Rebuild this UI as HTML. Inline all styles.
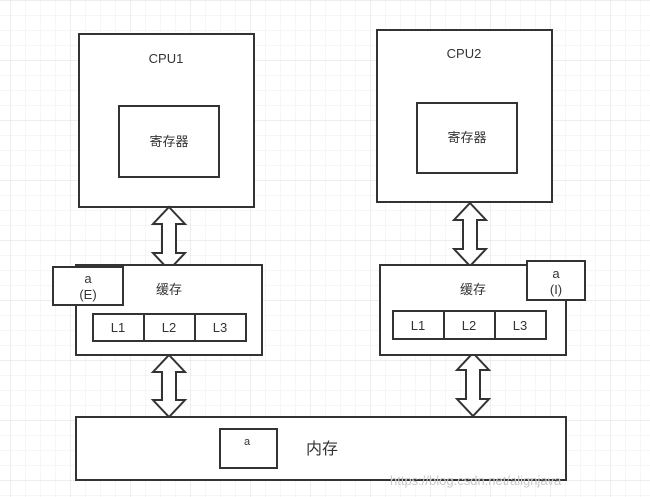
<!DOCTYPE html>
<html><head><meta charset="utf-8"><style>
html,body{margin:0;padding:0;background:#fff}
svg{display:block}
text{font-family:"Liberation Sans","Noto Sans CJK SC",sans-serif;fill:#333}
</style></head><body>
<svg width="650" height="497" viewBox="0 0 650 497" xmlns="http://www.w3.org/2000/svg">
<defs>
<pattern id="g" x="10" y="0" width="15" height="15" patternUnits="userSpaceOnUse">
<path d="M0 0V15M0 0H15" stroke="#ececec" stroke-width="1" fill="none"/>
</pattern>
<pattern id="G" x="10" y="0" width="60" height="60" patternUnits="userSpaceOnUse">
<path d="M0 0V60M0 0H60" stroke="#dedede" stroke-width="1" fill="none"/>
</pattern>
</defs>
<rect width="650" height="497" fill="url(#g)"/>
<rect width="650" height="497" fill="url(#G)"/>
<g fill="#fff" stroke="#333" stroke-width="2">
<!-- CPU1 -->
<rect x="79" y="34" width="175" height="173"/>
<rect x="119" y="106" width="100" height="71"/>
<!-- CPU2 -->
<rect x="377" y="30" width="175" height="172"/>
<rect x="417" y="103" width="100" height="70"/>
<!-- arrows -->
<path d="M169 207 L185 224 L176 224 L176 253 L185 253 L169 270 L153 253 L162 253 L162 224 L153 224 Z"/>
<path d="M169 355 L185 372 L176 372 L176 400 L185 400 L169 417 L153 400 L162 400 L162 372 L153 372 Z"/>
<path d="M470 203 L486 220 L477 220 L477 249 L486 249 L470 266 L454 249 L463 249 L463 220 L454 220 Z"/>
<path d="M473 353 L489 370 L480 370 L480 399 L489 399 L473 416 L457 399 L466 399 L466 370 L457 370 Z"/>
<!-- cache left -->
<rect x="76" y="265" width="186" height="90"/>
<rect x="53" y="267" width="70" height="38"/>
<rect x="93" y="314" width="153" height="27"/>
<line x1="144" y1="314" x2="144" y2="341"/>
<line x1="195" y1="314" x2="195" y2="341"/>
<!-- cache right -->
<rect x="380" y="265" width="186" height="90"/>
<rect x="527" y="261" width="58" height="39"/>
<rect x="393" y="311" width="153" height="28"/>
<line x1="444" y1="311" x2="444" y2="339"/>
<line x1="495" y1="311" x2="495" y2="339"/>
<!-- memory -->
<rect x="76" y="417" width="490" height="63"/>
<rect x="220" y="429" width="57" height="39"/>
</g>
<g font-size="13" text-anchor="middle">
<text x="166" y="63">CPU1</text>
<text x="464" y="58">CPU2</text>
<text x="169" y="146">寄存器</text>
<text x="467" y="142">寄存器</text>
<text x="169" y="294">缓存</text>
<text x="473" y="294">缓存</text>
<text x="88" y="283">a</text>
<text x="88" y="299">(E)</text>
<text x="556" y="278">a</text>
<text x="556" y="294">(I)</text>
<text x="118" y="332">L1</text>
<text x="169" y="332">L2</text>
<text x="220" y="332">L3</text>
<text x="418" y="330">L1</text>
<text x="469" y="330">L2</text>
<text x="520" y="330">L3</text>
<text x="247" y="445" font-size="11">a</text>
<text x="322" y="454" font-size="16">内存</text>
</g>
<text x="390" y="485" font-size="13" style="fill:#c8c8c8">https://blog.csdn.net/alignjava</text>
</svg>
</body></html>
